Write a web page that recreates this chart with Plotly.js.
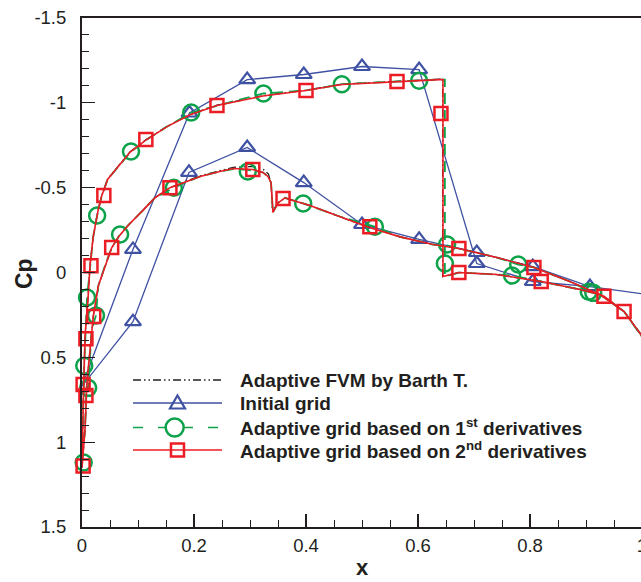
<!DOCTYPE html>
<html>
<head>
<meta charset="utf-8">
<script src="https://cdn.plot.ly/plotly-3.0.1.min.js"></script>
<style>html,body{margin:0;padding:0;overflow:hidden;background:#fff;}#chart{width:643px;height:582px;}</style>
</head>
<body>
<div id="chart"></div>
<script>
// ---------- data ----------
// Reference solution (Adaptive FVM by Barth T.) : upper surface TE->LE, then lower surface LE->TE
const barthX = [1.0, 0.998, 0.968, 0.925, 0.889, 0.82, 0.741, 0.673, 0.644, 0.644, 0.639, 0.5625, 0.464, 0.4, 0.323, 0.241, 0.193, 0.152, 0.114, 0.086, 0.055, 0.046, 0.035, 0.029, 0.020, 0.0143, 0.011, 0.0054, 0.0023, 0.0,
                0.0054, 0.0084, 0.011, 0.0173, 0.0202, 0.029, 0.041, 0.053, 0.065, 0.083, 0.107, 0.13, 0.157, 0.211, 0.246, 0.27, 0.305, 0.323, 0.333, 0.338, 0.340, 0.35, 0.3625, 0.371, 0.407, 0.46, 0.509, 0.568, 0.627, 0.673, 0.741, 0.807, 0.871, 0.932, 0.968, 0.998, 1.0];
const barthCp = [0.38, 0.365, 0.23, 0.13, 0.10, 0.053, 0.012, 0.0, 0.024, -1.14, -1.14, -1.128, -1.11, -1.075, -1.042, -0.986, -0.932, -0.862, -0.782, -0.712, -0.592, -0.552, -0.452, -0.372, -0.212, -0.042, 0.14, 0.375, 0.77, 1.15,
                 0.925, 0.67, 0.57, 0.336, 0.257, 0.08, -0.04, -0.146, -0.21, -0.28, -0.36, -0.44, -0.50, -0.57, -0.60, -0.62, -0.625, -0.61, -0.58, -0.52, -0.36, -0.41, -0.44, -0.43, -0.395, -0.33, -0.27, -0.21, -0.165, -0.141, -0.088, -0.03, 0.053, 0.14, 0.23, 0.365, 0.38];

// Initial grid (polyline, upper TE->LE->lower TE)
const initX = [1.0, 0.907, 0.805, 0.705, 0.602, 0.5, 0.396, 0.295, 0.192, 0.091, 0.0, 0.091, 0.191, 0.295, 0.396, 0.5, 0.602, 0.705, 0.805, 0.907, 1.0];
const initCp = [0.125, 0.083, 0.053, -0.053, -1.196, -1.214, -1.167, -1.137, -0.94, -0.136, 0.67, 0.29, -0.59, -0.737, -0.53, -0.283, -0.195, -0.118, -0.035, 0.083, 0.125];
const initMarkX = [0.907, 0.805, 0.705, 0.602, 0.5, 0.396, 0.295, 0.192, 0.091, -0.004, 0.091, 0.191, 0.295, 0.396, 0.5, 0.602, 0.705, 0.805];
const initMarkCp = [0.083, 0.053, -0.053, -1.196, -1.214, -1.167, -1.137, -0.94, -0.136, 0.67, 0.29, -0.59, -0.737, -0.53, -0.283, -0.195, -0.118, -0.035];

// Adaptive grid based on 1st derivatives (line + markers)
const firstX = [1.0, 0.998, 0.968, 0.925, 0.889, 0.82, 0.768, 0.741, 0.673, 0.648, 0.648, 0.639, 0.602, 0.5625, 0.464, 0.4, 0.324, 0.241, 0.195, 0.152, 0.114, 0.0875, 0.055, 0.046, 0.035, 0.027, 0.020, 0.0143, 0.009, 0.004, 0.0023, 0.0,
                0.0054, 0.0084, 0.011, 0.0173, 0.025, 0.029, 0.041, 0.053, 0.068, 0.083, 0.107, 0.13, 0.164, 0.211, 0.246, 0.27, 0.296, 0.323, 0.332, 0.3375, 0.341, 0.35, 0.3625, 0.395, 0.46, 0.523, 0.568, 0.627, 0.652, 0.673, 0.741, 0.779, 0.807, 0.871, 0.913, 0.932, 0.968, 0.998, 1.0];
const firstCp = [0.38, 0.365, 0.23, 0.13, 0.10, 0.053, 0.018, 0.012, 0.0, 0.024, -1.137, -1.137, -1.13, -1.126, -1.11, -1.073, -1.055, -0.984, -0.943, -0.86, -0.78, -0.713, -0.59, -0.55, -0.45, -0.336, -0.21, -0.04, 0.147, 0.55, 0.77, 1.12,
                 0.925, 0.67, 0.68, 0.336, 0.253, 0.08, -0.04, -0.146, -0.224, -0.28, -0.36, -0.44, -0.50, -0.566, -0.595, -0.61, -0.605, -0.59, -0.566, -0.53, -0.354, -0.41, -0.44, -0.407, -0.33, -0.27, -0.21, -0.165, -0.16, -0.141, -0.088, -0.047, -0.03, 0.053, 0.12, 0.14, 0.23, 0.365, 0.38];
const firstMarkX = [0.003, 0.004, 0.009, 0.027, 0.0875, 0.195, 0.324, 0.464, 0.602, 0.648, 0.768, 0.905,
                    0.011, 0.025, 0.068, 0.164, 0.296, 0.395, 0.523, 0.652, 0.779, 0.913];
const firstMarkCp = [1.12, 0.55, 0.147, -0.336, -0.713, -0.943, -1.055, -1.11, -1.13, -0.053, 0.018, 0.113,
                     0.68, 0.253, -0.224, -0.50, -0.595, -0.407, -0.27, -0.165, -0.047, 0.12];

// Adaptive grid based on 2nd derivatives (line + markers)
const secondX = [1.0, 0.998, 0.968, 0.925, 0.889, 0.82, 0.741, 0.673, 0.6446, 0.6446, 0.639, 0.5625, 0.464, 0.4, 0.323, 0.241, 0.193, 0.152, 0.114, 0.086, 0.055, 0.046, 0.035, 0.029, 0.020, 0.0143, 0.011, 0.0054, 0.0023, 0.0,
                 0.0054, 0.0084, 0.011, 0.0173, 0.0202, 0.029, 0.041, 0.053, 0.065, 0.083, 0.107, 0.13, 0.157, 0.211, 0.246, 0.27, 0.305, 0.323, 0.332, 0.3375, 0.341, 0.35, 0.3625, 0.371, 0.407, 0.46, 0.509, 0.568, 0.627, 0.673, 0.741, 0.807, 0.871, 0.932, 0.968, 0.998, 1.0];
const secondCp = [0.38, 0.365, 0.23, 0.13, 0.10, 0.053, 0.012, 0.0, 0.024, -1.137, -1.137, -1.126, -1.108, -1.073, -1.04, -0.984, -0.93, -0.86, -0.78, -0.71, -0.59, -0.55, -0.45, -0.37, -0.21, -0.04, 0.14, 0.375, 0.77, 1.15,
                  0.925, 0.67, 0.57, 0.336, 0.257, 0.08, -0.04, -0.146, -0.21, -0.28, -0.36, -0.44, -0.50, -0.566, -0.595, -0.613, -0.607, -0.59, -0.566, -0.53, -0.354, -0.41, -0.44, -0.43, -0.395, -0.33, -0.27, -0.21, -0.165, -0.141, -0.088, -0.03, 0.053, 0.14, 0.23, 0.365, 0.38];
const secondMarkX = [0.002, 0.002, 0.007, 0.016, 0.039, 0.114, 0.241, 0.4, 0.5625, 0.641, 0.673, 0.82, 0.968,
                     0.007, 0.021, 0.053, 0.157, 0.305, 0.359, 0.514, 0.673, 0.807, 0.932];
const secondMarkCp = [1.14, 0.66, 0.39, -0.04, -0.454, -0.784, -0.984, -1.073, -1.126, -0.937, 0.0, 0.053, 0.23,
                      0.725, 0.26, -0.147, -0.50, -0.607, -0.436, -0.27, -0.141, -0.03, 0.14];

const xTickVals = [0, 0.2, 0.4, 0.6, 0.8, 1];
const xTickText = ['0', '0.2', '0.4', '0.6', '0.8', '1'];
const yTickVals = [-1.5, -1, -0.5, 0, 0.5, 1, 1.5];
const yTickText = ['-1.5', '-1', '-0.5', '0', '0.5', '1', '1.5'];

const xTitle = 'x';
const yTitle = 'Cp';
const legendNames = ['Adaptive FVM by Barth T.', 'Initial grid',
  'Adaptive grid based on 1<sup>st</sup> derivatives',
  'Adaptive grid based on 2<sup>nd</sup> derivatives'];

// ---------- styles ----------
const INK = '#231f20';
const BLUE = '#3f51a3';
const GREEN = '#0ca24a';
const RED = '#ec1c24';
const FONT = 'Liberation Sans, Arial, Helvetica, sans-serif';
const BLACKDASH = '8px,3px,1.5px,3px,1.5px,3px';
const GREENDASH = '11px,6px';

const traces = [
  {x: initX, y: initCp, mode: 'lines', line: {color: BLUE, width: 1.3}, hoverinfo: 'skip'},
  {x: initMarkX, y: initMarkCp, mode: 'markers', cliponaxis: false,
   marker: {symbol: 'triangle-up-open', size: 14, color: BLUE, line: {width: 2.2, color: BLUE}}},
  {x: barthX, y: barthCp, mode: 'lines', line: {color: INK, width: 1.3, dash: BLACKDASH}},
  {x: firstX, y: firstCp, mode: 'lines', line: {color: GREEN, width: 1.8, dash: GREENDASH}},
  {x: firstMarkX, y: firstMarkCp, mode: 'markers', cliponaxis: false,
   marker: {symbol: 'circle-open', size: 16, color: GREEN, line: {width: 2.5, color: GREEN}}},
  {x: secondX, y: secondCp, mode: 'lines', line: {color: RED, width: 1.6}},
  {x: secondMarkX, y: secondMarkCp, mode: 'markers', cliponaxis: false,
   marker: {symbol: 'square-open', size: 13, color: RED, line: {width: 2.5, color: RED}}}
];

// plot area: x 82..642 px, y 18..527 px
// legend (drawn in paper coordinates)
const L0 = 0.0911, L1 = 0.2500, LM = 0.1705, LT = 0.2786;
const rows = [0.2888, 0.2436, 0.1955, 0.1513];
const shapes = [
  {type: 'line', xref: 'paper', yref: 'paper', x0: L0, x1: L1, y0: rows[0], y1: rows[0], line: {color: INK, width: 1.3, dash: BLACKDASH}},
  {type: 'line', xref: 'paper', yref: 'paper', x0: L0, x1: L1, y0: rows[1], y1: rows[1], line: {color: BLUE, width: 1.3}},
  {type: 'path', xref: 'paper', yref: 'paper', xsizemode: 'pixel', ysizemode: 'pixel', xanchor: LM, yanchor: rows[1],
   path: 'M -7.5,-5.5 L 7.5,-5.5 L 0,7.5 Z', line: {color: BLUE, width: 2.2}, fillcolor: 'rgba(0,0,0,0)'},
  {type: 'line', xref: 'paper', yref: 'paper', x0: L0, x1: L1, y0: rows[2], y1: rows[2], line: {color: GREEN, width: 1.6, dash: '10px,15px'}},
  {type: 'circle', xref: 'paper', yref: 'paper', xsizemode: 'pixel', ysizemode: 'pixel', xanchor: LM - 0.005, yanchor: rows[2],
   x0: -9, x1: 9, y0: -9, y1: 9, line: {color: GREEN, width: 2.5}, fillcolor: '#ffffff'},
  {type: 'line', xref: 'paper', yref: 'paper', x0: L0, x1: L1, y0: rows[3], y1: rows[3], line: {color: RED, width: 1.6}},
  {type: 'rect', xref: 'paper', yref: 'paper', xsizemode: 'pixel', ysizemode: 'pixel', xanchor: LM, yanchor: rows[3],
   x0: -6.5, x1: 6.5, y0: -6.5, y1: 6.5, line: {color: RED, width: 2.5}, fillcolor: 'rgba(0,0,0,0)'}
];
const annotations = legendNames.map((t, i) => ({
  xref: 'paper', yref: 'paper', x: LT, y: rows[i], xanchor: 'left', yanchor: 'middle',
  text: '<b>' + t + '</b>', showarrow: false, font: {family: FONT, size: 19, color: INK}
}));
// axis titles
annotations.push({xref: 'paper', yref: 'paper', x: -0.1036, y: 0.499, xanchor: 'center', yanchor: 'middle',
  text: '<b>' + yTitle + '</b>', textangle: -90, showarrow: false, font: {family: FONT, size: 23, color: INK}});
annotations.push({xref: 'paper', yref: 'paper', x: 0.5, y: -0.079, xanchor: 'center', yanchor: 'middle',
  text: '<b>' + xTitle + '</b>', showarrow: false, font: {family: FONT, size: 22, color: INK}});

const axisCommon = {
  showgrid: false, zeroline: false, showline: true, linewidth: 2, linecolor: INK,
  ticks: 'inside', ticklen: 13, tickwidth: 1.3, tickcolor: INK, ticklabeloverflow: 'allow',
  tickfont: {family: FONT, size: 18.5, color: INK}, tickmode: 'array'
};

const layout = {
  width: 643, height: 582,
  margin: {l: 82, r: 1, t: 18, b: 55},
  paper_bgcolor: '#ffffff', plot_bgcolor: '#ffffff',
  showlegend: false,
  xaxis: Object.assign({}, axisCommon, {
    range: [0, 1], tickvals: xTickVals, ticktext: xTickText, mirror: true, ticklabelstandoff: 1,
    minor: {dtick: 0.05, tick0: 0, ticks: 'inside', ticklen: 7, tickwidth: 1, tickcolor: INK}
  }),
  yaxis: Object.assign({}, axisCommon, {
    range: [1.5, -1.5], tickvals: yTickVals, ticktext: yTickText, ticklabelstandoff: 10,
    minor: {dtick: 0.1, tick0: 0, ticks: 'inside', ticklen: 7, tickwidth: 1, tickcolor: INK}
  }),
  shapes: shapes,
  annotations: annotations
};

Plotly.newPlot('chart', traces, layout, {displayModeBar: false, staticPlot: true});
</script>
</body>
</html>
